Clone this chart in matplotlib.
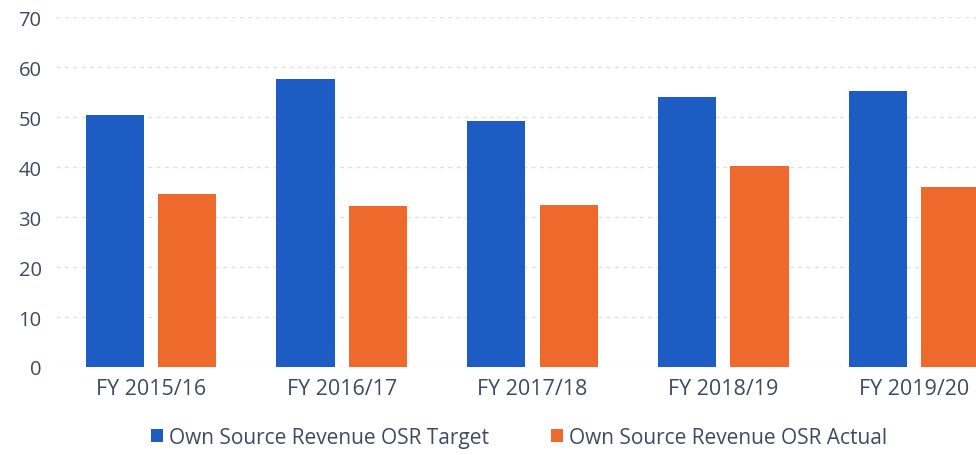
import matplotlib
matplotlib.use("Agg")
import matplotlib.pyplot as plt
import numpy as np

categories = ["FY 2015/16", "FY 2016/17", "FY 2017/18", "FY 2018/19", "FY 2019/20"]
osr_target = [50.4, 57.6, 49.2, 54.0, 55.2]
osr_actual = [34.6, 32.2, 32.4, 40.2, 36.0]
series_names = ["Own Source Revenue OSR Target", "Own Source Revenue OSR Actual"]
yticks = [0, 10, 20, 30, 40, 50, 60, 70]

plt.rcParams['font.family'] = ['Open Sans', 'DejaVu Sans']

fig = plt.figure(figsize=(9.76, 4.56), dpi=100)
ax = fig.add_axes([55.5/976, (456-368)/456, 954/976, 350/456])

x = np.arange(len(categories))
w = 0.305
off = 0.19
blue = "#1C5CC3"
orange = "#EE6A2C"
ax.bar(x - off, osr_target, width=w, color=blue, label=series_names[0], zorder=3)
ax.bar(x + off, osr_actual, width=w, color=orange, label=series_names[1], zorder=3)

ax.set_xlim(-0.5, 4.5)
ax.set_ylim(0, 70)
ax.set_yticks(yticks)
ax.set_xticks(x)
ax.set_xticklabels(categories, fontsize=15.5)
ax.grid(axis='y', color="#EADCF0", linestyle=(0, (3, 3)), linewidth=1, zorder=0)
for s in ax.spines.values():
    s.set_visible(False)
ax.tick_params(axis='both', length=0, labelsize=14.5, colors="#3E4A64")
ax.tick_params(axis='y', pad=10)
ax.tick_params(axis='x', pad=8, labelsize=15.5)

fig.legend(loc='lower center', bbox_to_anchor=(0.532, -0.025), ncol=2, frameon=False,
           fontsize=15, handlelength=0.55, handleheight=0.55, handletextpad=0.3,
           columnspacing=3.0, labelcolor="#3E4A64")

fig.savefig("out.png", dpi=100)
